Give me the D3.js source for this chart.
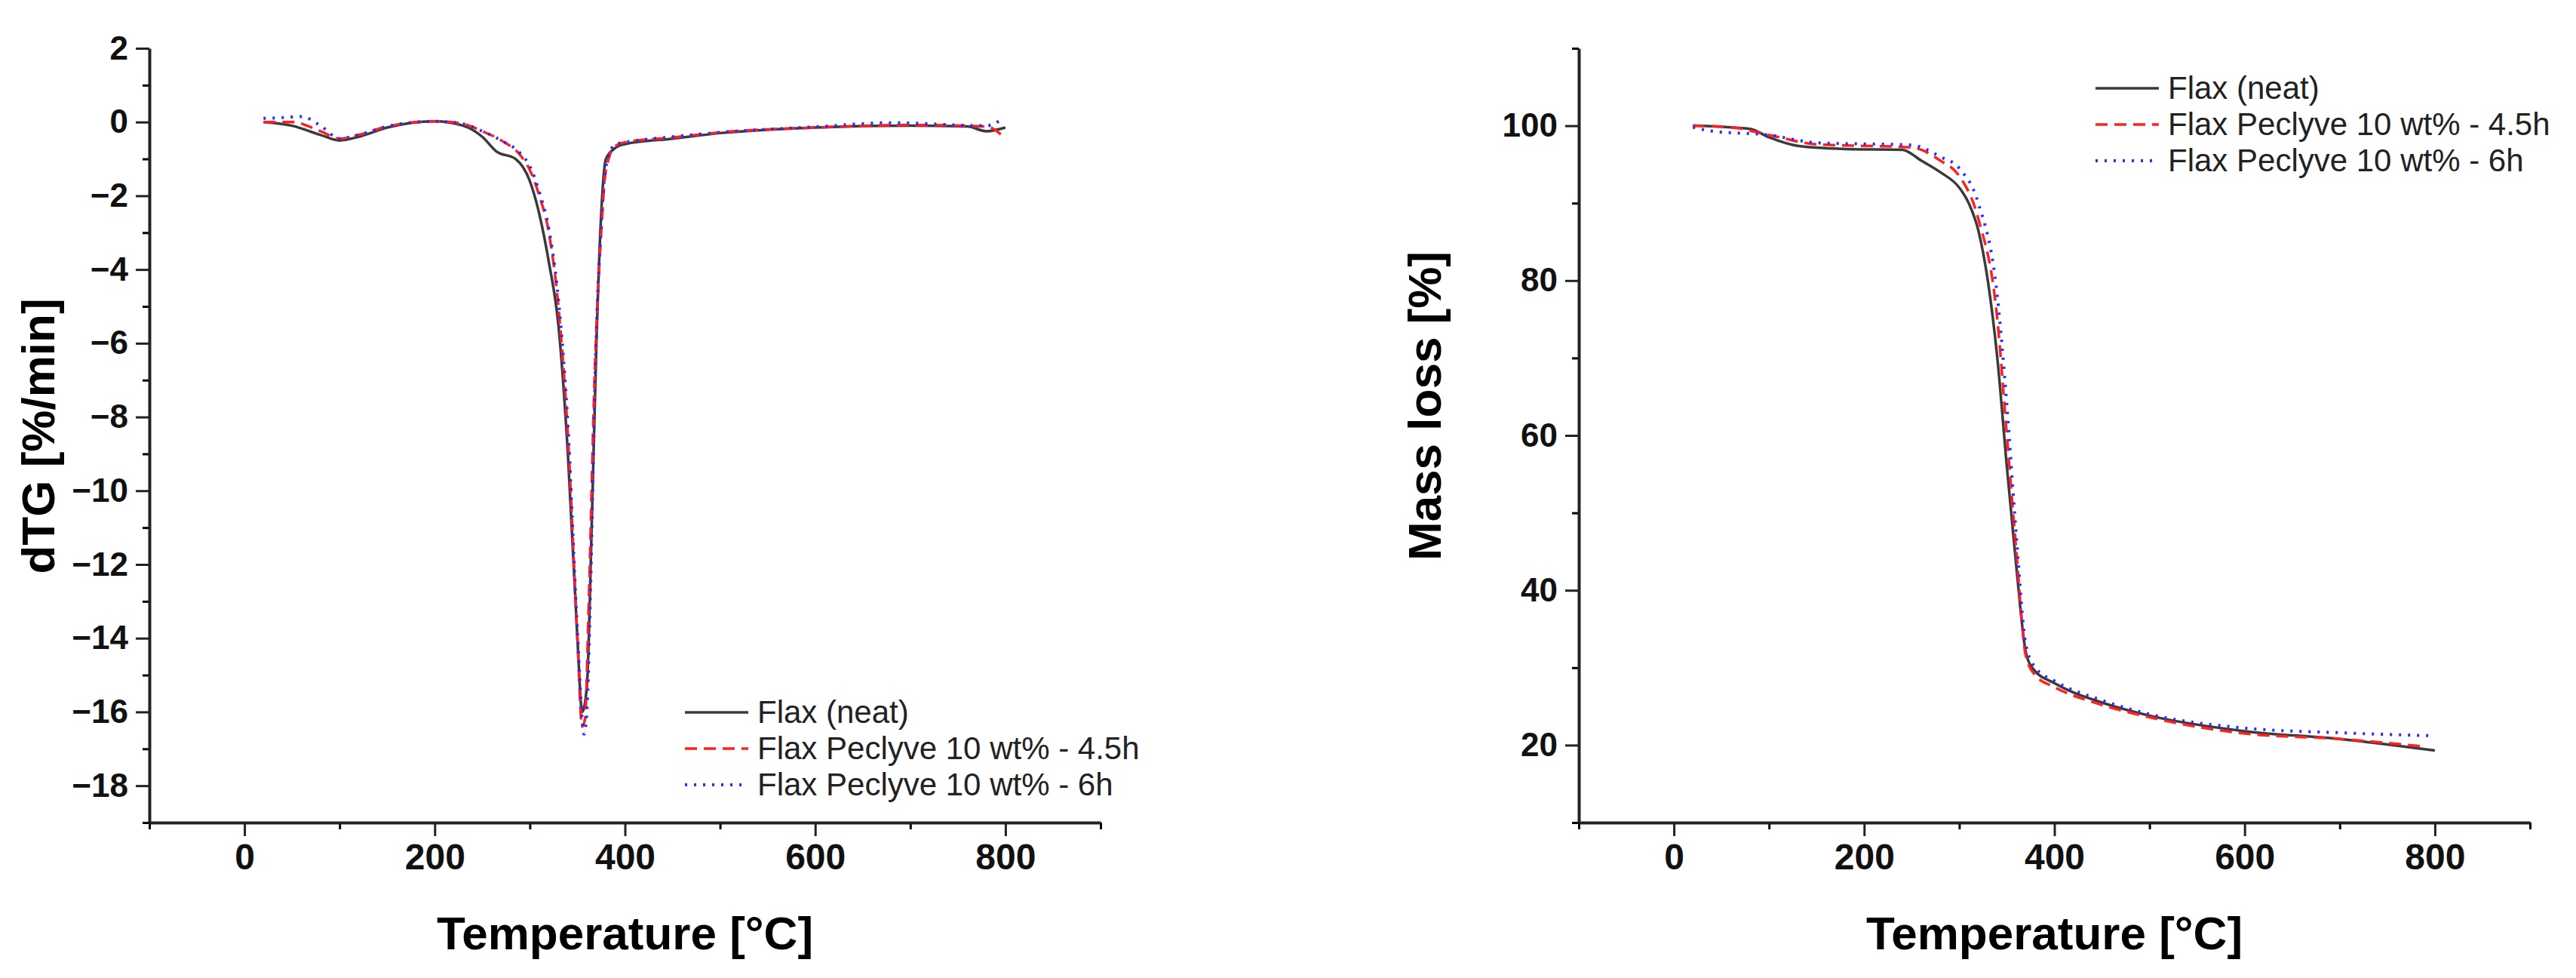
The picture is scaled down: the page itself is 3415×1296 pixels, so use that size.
<!DOCTYPE html>
<html><head><meta charset="utf-8">
<script src="https://cdn.jsdelivr.net/npm/d3@7"></script>
<style>
body{margin:0;background:#fff;}
text{font-family:"Liberation Sans Narrow","Liberation Sans",Arial,sans-serif;}
</style></head>
<body><svg id="chart" width="3415" height="1296"></svg>
<script>
// series names
var seriesNames = ["Flax (neat)", "Flax Peclyve 10 wt% - 4.5h", "Flax Peclyve 10 wt% - 6h"];

// dTG curves [temperature, value]
var dtgNeat = [[20,0],[50,-0.1],[80,-0.35],[100,-0.5],[120,-0.4],[150,-0.15],[200,0.02],[230,-0.1],[250,-0.4],[265,-0.8],[285,-1.0],[300,-1.6],[310,-2.5],[320,-3.8],[330,-5.5],[340,-9],[350,-14],[355,-16.0],[360,-15.3],[365,-11],[370,-6],[375,-2.5],[380,-1.0],[390,-0.7],[400,-0.6],[450,-0.45],[500,-0.3],[600,-0.15],[700,-0.1],[760,-0.12],[780,-0.25],[800,-0.15]];
var dtg45 = [[20,0],[50,0],[80,-0.25],[100,-0.45],[120,-0.35],[150,-0.12],[200,0.02],[230,-0.05],[250,-0.25],[270,-0.5],[290,-0.9],[300,-1.3],[310,-2.0],[320,-3.0],[330,-5],[340,-8.5],[350,-14],[355,-16.4],[358,-16.2],[362,-13],[368,-7],[375,-3],[380,-1.3],[390,-0.65],[400,-0.55],[450,-0.42],[500,-0.28],[600,-0.15],[700,-0.08],[780,-0.12],[798,-0.4]];
var dtg6 = [[20,0.1],[40,0.12],[60,0.15],[80,-0.1],[100,-0.45],[120,-0.35],[150,-0.12],[200,0.02],[230,-0.05],[250,-0.25],[270,-0.5],[290,-0.85],[300,-1.2],[310,-1.9],[320,-2.9],[330,-4.8],[340,-8.2],[350,-13.8],[357,-16.6],[360,-16.0],[364,-12.5],[369,-6.5],[375,-2.8],[380,-1.2],[390,-0.6],[400,-0.55],[450,-0.4],[500,-0.28],[600,-0.13],[680,-0.02],[780,-0.1],[798,0.1]];

// mass loss curves
var tgNeat = [[20,100],[80,99.6],[100,98.5],[130,97.4],[180,97.0],[240,96.9],[260,95.5],[280,94],[300,92],[310,90],[320,86.5],[330,80],[340,70],[350,56],[360,43],[370,32],[378,29.8],[400,28],[450,25.5],[500,23.8],[600,21.8],[700,20.8],[800,19.3]];
var tg45 = [[20,100],[60,99.8],[100,98.8],[150,97.6],[250,97.2],[280,95.5],[300,93.5],[320,88],[340,75],[350,60],[360,45],[370,31.5],[380,29],[400,27.5],[450,25.2],[500,23.6],[600,21.5],[700,20.8],[790,19.8]];
var tg6 = [[20,99.8],[40,99.3],[100,98.8],[150,97.8],[250,97.5],[280,96.0],[300,94.5],[320,90],[340,78],[350,64],[360,47],[370,33],[380,30],[400,28.3],[450,25.8],[500,24],[600,22.2],[700,21.6],[800,21.2]];

var xDomain = [-100, 900];
var xTicks = [0, 200, 400, 600, 800];
var dtgDomain = [-19, 2];
var dtgTicks = [2, 0, -2, -4, -6, -8, -10, -12, -14, -16, -18];
var tgDomain = [10, 110];
var tgTicks = [20, 40, 60, 80, 100];

var styles = [
  {color:"#3a3a3a", dash:null, w:3.5},
  {color:"#ff2020", dash:"16,9", w:3.5},
  {color:"#2a2aff", dash:"3,9", w:4}
];

var svg = d3.select("#chart");

function panel(opt) {
  var g = svg.append("g");
  var x = d3.scaleLinear().domain(xDomain).range([opt.left, opt.left + 1261]);
  var y = d3.scaleLinear().domain(opt.yDomain).range([1090, 64]);

  // minor ticks
  var xMinor = d3.range(-100, 901, 100).filter(function(v){ return xTicks.indexOf(v) < 0; });
  g.append("g").attr("transform", "translate(0,1090)")
    .call(d3.axisBottom(x).tickValues(xMinor).tickSize(9).tickFormat(""))
    .call(function(a){ a.select(".domain").remove(); a.selectAll("line").attr("stroke-width",3); });
  var yMinor = d3.range(opt.yDomain[0], opt.yDomain[1] + 0.001, opt.minor).filter(function(v){ return opt.yTicks.indexOf(v) < 0; });
  g.append("g").attr("transform", "translate(" + opt.left + ",0)")
    .call(d3.axisLeft(y).tickValues(yMinor).tickSize(9).tickFormat(""))
    .call(function(a){ a.select(".domain").remove(); a.selectAll("line").attr("stroke-width",3); });

  var xa = g.append("g").attr("transform", "translate(0,1090)")
    .call(d3.axisBottom(x).tickValues(xTicks).tickSize(18).tickSizeOuter(0).tickPadding(10));
  var ya = g.append("g").attr("transform", "translate(" + opt.left + ",0)")
    .call(d3.axisLeft(y).tickValues(opt.yTicks).tickSize(18).tickSizeOuter(0).tickPadding(10));
  [xa, ya].forEach(function(a){
    a.select(".domain").attr("stroke", "#222").attr("stroke-width", 4);
    a.selectAll("line").attr("stroke", "#222").attr("stroke-width", 3);
    a.selectAll("text").attr("font-size", 44).attr("font-weight", "bold")
      .attr("font-family", "'Liberation Sans',Arial,sans-serif").attr("fill", "#111");
  });
  xa.selectAll("text").attr("font-family", "'Liberation Sans Narrow','Liberation Sans',sans-serif").attr("font-size", 48);

  var line = d3.line().x(function(d){ return x(d[0]); }).y(function(d){ return y(d[1]); })
    .curve(d3.curveMonotoneX);
  opt.series.forEach(function(s, i) {
    g.append("path").datum(s).attr("d", line).attr("fill", "none")
      .attr("stroke", styles[i].color).attr("stroke-width", styles[i].w)
      .attr("stroke-dasharray", styles[i].dash);
  });

  g.append("text").attr("x", x(400)).attr("y", 1258).attr("text-anchor", "middle")
    .attr("font-size", 62).attr("font-weight", "bold").text("Temperature [°C]");
  g.append("text").attr("transform", "translate(" + opt.titleX + "," + opt.titleY + ") rotate(-90)")
    .attr("text-anchor", "middle").attr("font-size", 62).attr("font-weight", "bold").text(opt.title);

  seriesNames.forEach(function(n, i) {
    var yy = opt.legY + i * 48;
    g.append("line").attr("x1", opt.legX).attr("x2", opt.legX + 84).attr("y1", yy).attr("y2", yy)
      .attr("stroke", styles[i].color).attr("stroke-width", styles[i].w)
      .attr("stroke-dasharray", styles[i].dash);
    g.append("text").attr("x", opt.legX + 96).attr("y", yy + 14).attr("font-size", 42)
      .attr("fill", "#222").text(n);
  });
}

panel({left:198, yDomain:dtgDomain, yTicks:dtgTicks, minor:1, series:[dtgNeat, dtg45, dtg6],
  title:"dTG [%/min]", titleX:72, titleY:578, legX:908, legY:944});
panel({left:2093, yDomain:tgDomain, yTicks:tgTicks, minor:10, series:[tgNeat, tg45, tg6],
  title:"Mass loss [%]", titleX:1910, titleY:538, legX:2778, legY:117});
</script></body></html>
